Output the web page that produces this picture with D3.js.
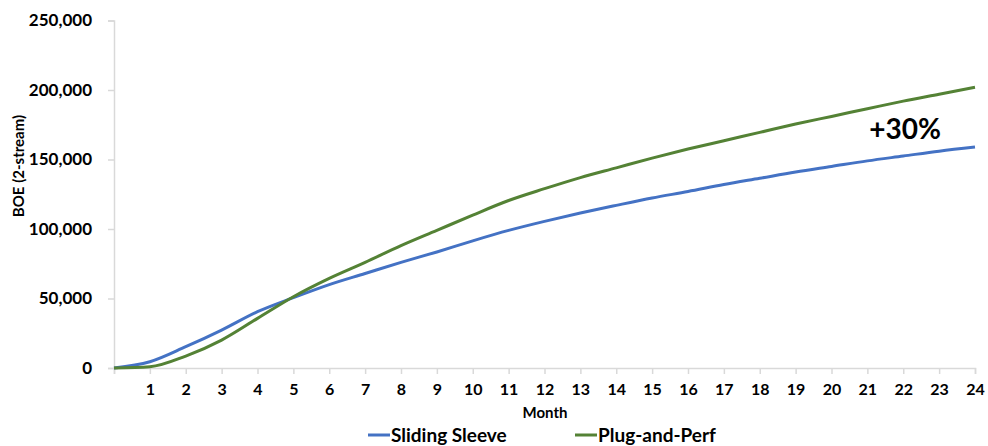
<!DOCTYPE html>
<html>
<head>
<meta charset="utf-8">
<script src="https://cdn.jsdelivr.net/npm/d3@7"></script>
<style>
  body { margin: 0; background: #fff; }
  svg text { font-family: Lato, "Open Sans", sans-serif; font-weight: 700; fill: #000; }
</style>
</head>
<body>
<div id="chart"></div>
<script>
const months = d3.range(0, 25);
const slidingSleeve = [0, 4500, 15300, 27300, 40500, 50600, 60000, 68000, 76000, 83500, 91500, 99000, 105500, 111500, 117000, 122300, 127000, 132000, 136500, 141000, 145000, 149000, 152500, 156000, 159000];
const plugAndPerf = [0, 900, 8600, 20100, 35700, 51300, 64500, 76000, 88000, 99000, 110000, 120500, 129000, 137000, 144000, 151000, 157500, 163500, 169500, 175500, 181000, 186500, 192000, 197000, 202000];
const yTicks = [0, 50000, 100000, 150000, 200000, 250000];
const seriesNames = ["Sliding Sleeve", "Plug-and-Perf"];
const colors = ["#4472C4", "#548235"];

const width = 988, height = 446;
const margin = {top: 20.5, right: 13, bottom: 78, left: 114};

const svg = d3.select("#chart")
  .append("svg")
  .attr("width", width)
  .attr("height", height);

const x = d3.scaleLinear()
  .domain([0, 24])
  .range([margin.left, width - margin.right]);

const y = d3.scaleLinear()
  .domain([0, 250000])
  .range([height - margin.bottom, margin.top]);

// y axis
const yAxis = svg.append("g")
  .attr("transform", `translate(${margin.left},0)`)
  .call(d3.axisLeft(y).tickValues(yTicks).tickSize(6).tickPadding(16).tickFormat(d3.format(",")));
yAxis.select(".domain").attr("stroke", "#d9d9d9").attr("stroke-width", 1.5);
yAxis.selectAll(".tick line").attr("stroke", "#d9d9d9").attr("stroke-width", 1.5);
yAxis.selectAll(".tick text").style("font-size", "17px");

// x axis
const xAxis = svg.append("g")
  .attr("transform", `translate(0,${y(0)})`)
  .call(d3.axisBottom(x).tickValues(months).tickSize(6).tickPadding(10)
    .tickFormat(d => d === 0 ? "" : d));
xAxis.select(".domain").attr("stroke", "#d9d9d9").attr("stroke-width", 1.5);
xAxis.selectAll(".tick line").attr("stroke", "#d9d9d9").attr("stroke-width", 1.5);
xAxis.selectAll(".tick text").style("font-size", "16px");

// axis titles
svg.append("text")
  .attr("transform", `translate(19,166) rotate(-90)`)
  .attr("text-anchor", "middle")
  .attr("dy", "0.35em")
  .style("font-size", "15px")
  .text("BOE (2-stream)");

svg.append("text")
  .attr("x", 545)
  .attr("y", 413)
  .attr("text-anchor", "middle")
  .attr("dy", "0.35em")
  .style("font-size", "15px")
  .text("Month");

// lines
const line = d3.line()
  .x((d, i) => x(months[i]))
  .y(d => y(d))
  .curve(d3.curveMonotoneX);

[slidingSleeve, plugAndPerf].forEach((s, i) => {
  svg.append("path")
    .datum(s)
    .attr("fill", "none")
    .attr("stroke", colors[i])
    .attr("stroke-width", 3)
    .attr("d", line);
});

// annotation
svg.append("text")
  .attr("x", 905)
  .attr("y", 139)
  .attr("text-anchor", "middle")
  .style("font-size", "28px")
  .text("+30%");

// legend
const legendX = [368, 575];
const legend = svg.append("g")
  .selectAll("g")
  .data(seriesNames)
  .enter().append("g")
  .attr("transform", (d, i) => `translate(${legendX[i]},435)`);

legend.append("line")
  .attr("x1", 0).attr("x2", 22)
  .attr("stroke", (d, i) => colors[i])
  .attr("stroke-width", 3);

legend.append("text")
  .attr("x", 23)
  .attr("dy", "0.35em")
  .style("font-size", "19px")
  .text(d => d);
</script>
</body>
</html>
